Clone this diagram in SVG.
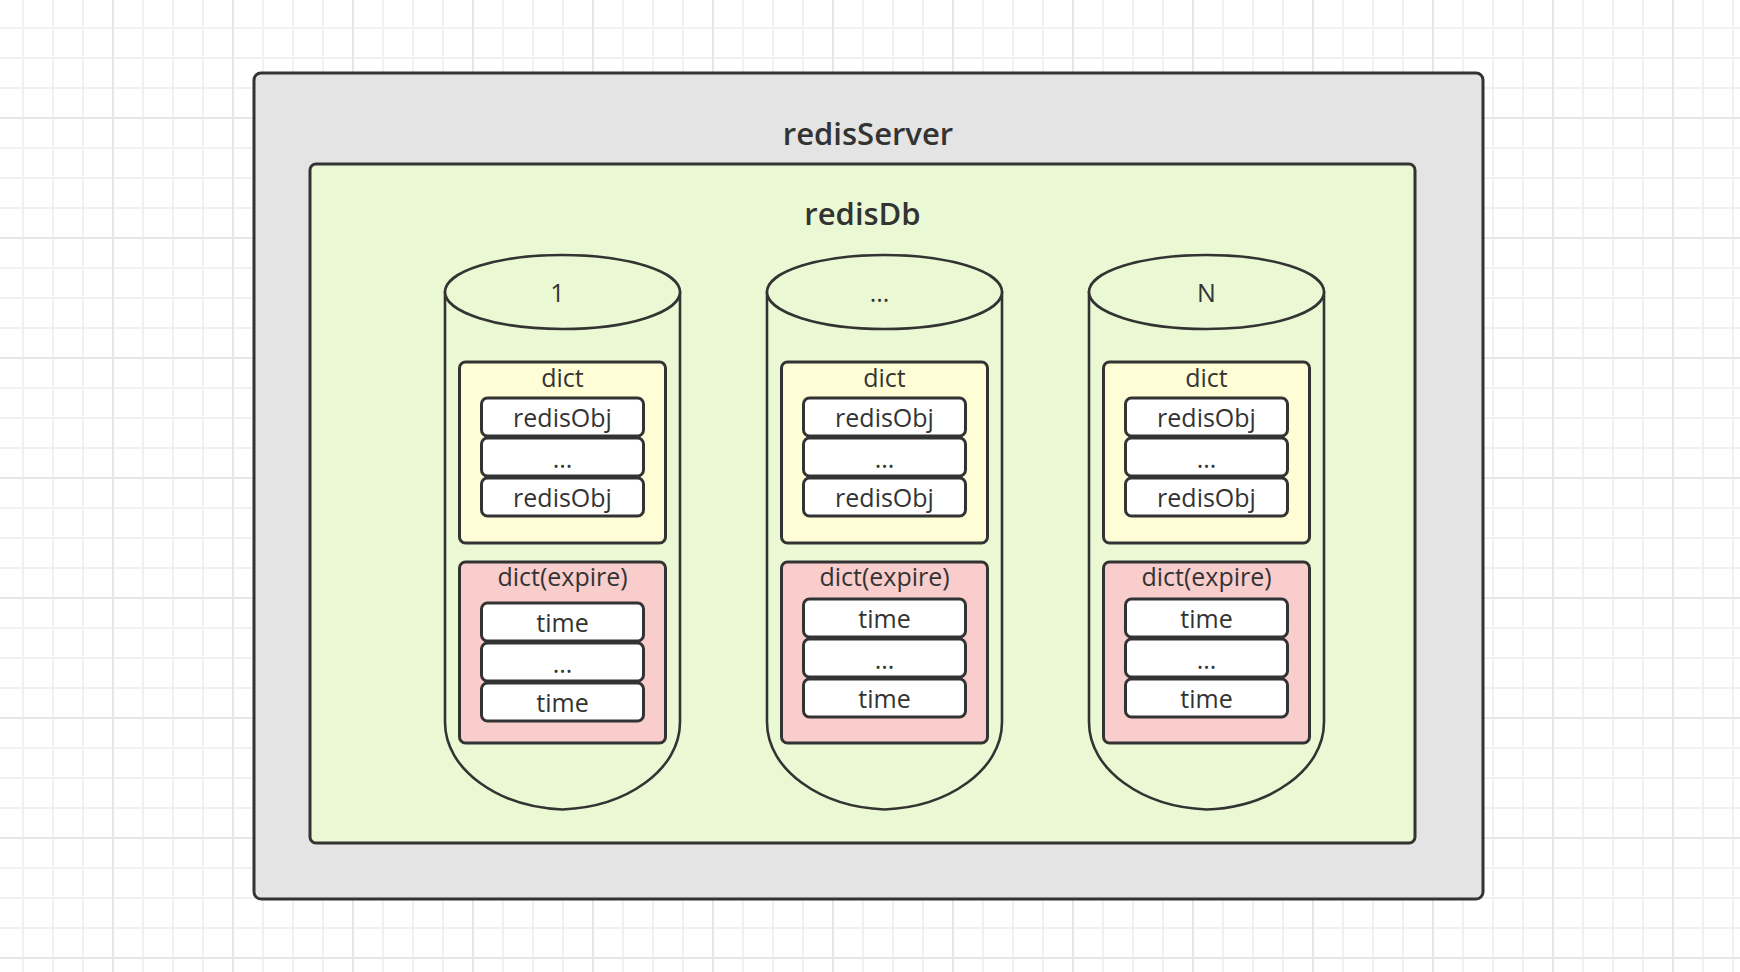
<svg xmlns="http://www.w3.org/2000/svg" width="1740" height="972" viewBox="0 0 1740 972">
<style>
.frame{stroke:#333;stroke-width:3}
.cyl{fill:#EAF9D3;stroke:#333;stroke-width:2.6}
.dict{fill:#FFFDD5;stroke:#333;stroke-width:3}
.exp{fill:#F8CDCC;stroke:#333;stroke-width:3}
.row{fill:#FFFFFF;stroke:#333;stroke-width:3}
.t{font-family:"Open Sans","Noto Sans","Liberation Sans",sans-serif;font-size:25px;fill:#333;text-anchor:middle}
.title{font-family:"Open Sans","Noto Sans","Liberation Sans",sans-serif;font-size:31px;font-weight:600;fill:#333;text-anchor:middle}
</style>
<defs>
<pattern id="minor" x="22" y="27" width="30" height="30" patternUnits="userSpaceOnUse">
<rect x="0" y="0" width="2" height="30" fill="#F1F1F1"/>
<rect x="0" y="0" width="30" height="2" fill="#F1F1F1"/>
</pattern>
<pattern id="major" x="112" y="117" width="120" height="120" patternUnits="userSpaceOnUse">
<rect x="0" y="0" width="2" height="120" fill="#E6E6E6"/>
<rect x="0" y="0" width="120" height="2" fill="#E6E6E6"/>
</pattern>
<path id="cylbody" d="M -117.5,292 L -117.5,722 C -117.5,770 -64,807 0,809.5 C 64,807 117.5,770 117.5,722 L 117.5,292 Z"/>
</defs>
<rect x="0" y="0" width="1740" height="972" fill="#FFFFFF"/>
<rect x="0" y="0" width="1740" height="972" fill="url(#minor)"/>
<rect x="0" y="0" width="1740" height="972" fill="url(#major)"/>

<g id="redisServer">
<rect class="frame" x="254" y="73" width="1229" height="826" rx="7" fill="#E4E4E4"/>
<text class="title" x="868" y="145">redisServer</text>
</g>

<g id="redisDb">
<rect class="frame" x="310" y="164" width="1105" height="679" rx="6" fill="#EAF9D3"/>
<text class="title" x="862.5" y="225">redisDb</text>
</g>

<g id="db1" transform="translate(562.5,0)">
<use href="#cylbody" class="cyl"/>
<ellipse class="cyl" cx="0" cy="292" rx="117.5" ry="37"/>
<text class="t" x="-5" y="302">1</text>
<g id="db1-dict">
<rect class="dict" x="-103" y="362" width="206" height="181" rx="6"/>
<text class="t" x="0" y="387">dict</text>
<rect class="row" x="-81" y="398" width="162" height="38" rx="6"/>
<text class="t" x="0" y="427">redisObj</text>
<rect class="row" x="-81" y="438" width="162" height="38" rx="6"/>
<text class="t" x="0" y="468">...</text>
<rect class="row" x="-81" y="478" width="162" height="38" rx="6"/>
<text class="t" x="0" y="507">redisObj</text>
</g>
<g id="db1-expire">
<rect class="exp" x="-103" y="562" width="206" height="181" rx="6"/>
<text class="t" x="0" y="586">dict(expire)</text>
<rect class="row" x="-81" y="603" width="162" height="38" rx="6"/>
<text class="t" x="0" y="632">time</text>
<rect class="row" x="-81" y="643" width="162" height="38" rx="6"/>
<text class="t" x="0" y="673">...</text>
<rect class="row" x="-81" y="683" width="162" height="38" rx="6"/>
<text class="t" x="0" y="712">time</text>
</g>
</g>

<g id="db2" transform="translate(884.5,0)">
<use href="#cylbody" class="cyl"/>
<ellipse class="cyl" cx="0" cy="292" rx="117.5" ry="37"/>
<text class="t" x="-5" y="302">...</text>
<g id="db2-dict">
<rect class="dict" x="-103" y="362" width="206" height="181" rx="6"/>
<text class="t" x="0" y="387">dict</text>
<rect class="row" x="-81" y="398" width="162" height="38" rx="6"/>
<text class="t" x="0" y="427">redisObj</text>
<rect class="row" x="-81" y="438" width="162" height="38" rx="6"/>
<text class="t" x="0" y="468">...</text>
<rect class="row" x="-81" y="478" width="162" height="38" rx="6"/>
<text class="t" x="0" y="507">redisObj</text>
</g>
<g id="db2-expire">
<rect class="exp" x="-103" y="562" width="206" height="181" rx="6"/>
<text class="t" x="0" y="586">dict(expire)</text>
<rect class="row" x="-81" y="599" width="162" height="38" rx="6"/>
<text class="t" x="0" y="628">time</text>
<rect class="row" x="-81" y="639" width="162" height="38" rx="6"/>
<text class="t" x="0" y="669">...</text>
<rect class="row" x="-81" y="679" width="162" height="38" rx="6"/>
<text class="t" x="0" y="708">time</text>
</g>
</g>

<g id="dbN" transform="translate(1206.5,0)">
<use href="#cylbody" class="cyl"/>
<ellipse class="cyl" cx="0" cy="292" rx="117.5" ry="37"/>
<text class="t" x="0" y="302">N</text>
<g id="dbN-dict">
<rect class="dict" x="-103" y="362" width="206" height="181" rx="6"/>
<text class="t" x="0" y="387">dict</text>
<rect class="row" x="-81" y="398" width="162" height="38" rx="6"/>
<text class="t" x="0" y="427">redisObj</text>
<rect class="row" x="-81" y="438" width="162" height="38" rx="6"/>
<text class="t" x="0" y="468">...</text>
<rect class="row" x="-81" y="478" width="162" height="38" rx="6"/>
<text class="t" x="0" y="507">redisObj</text>
</g>
<g id="dbN-expire">
<rect class="exp" x="-103" y="562" width="206" height="181" rx="6"/>
<text class="t" x="0" y="586">dict(expire)</text>
<rect class="row" x="-81" y="599" width="162" height="38" rx="6"/>
<text class="t" x="0" y="628">time</text>
<rect class="row" x="-81" y="639" width="162" height="38" rx="6"/>
<text class="t" x="0" y="669">...</text>
<rect class="row" x="-81" y="679" width="162" height="38" rx="6"/>
<text class="t" x="0" y="708">time</text>
</g>
</g>

<g id="connectors"/>
</svg>
